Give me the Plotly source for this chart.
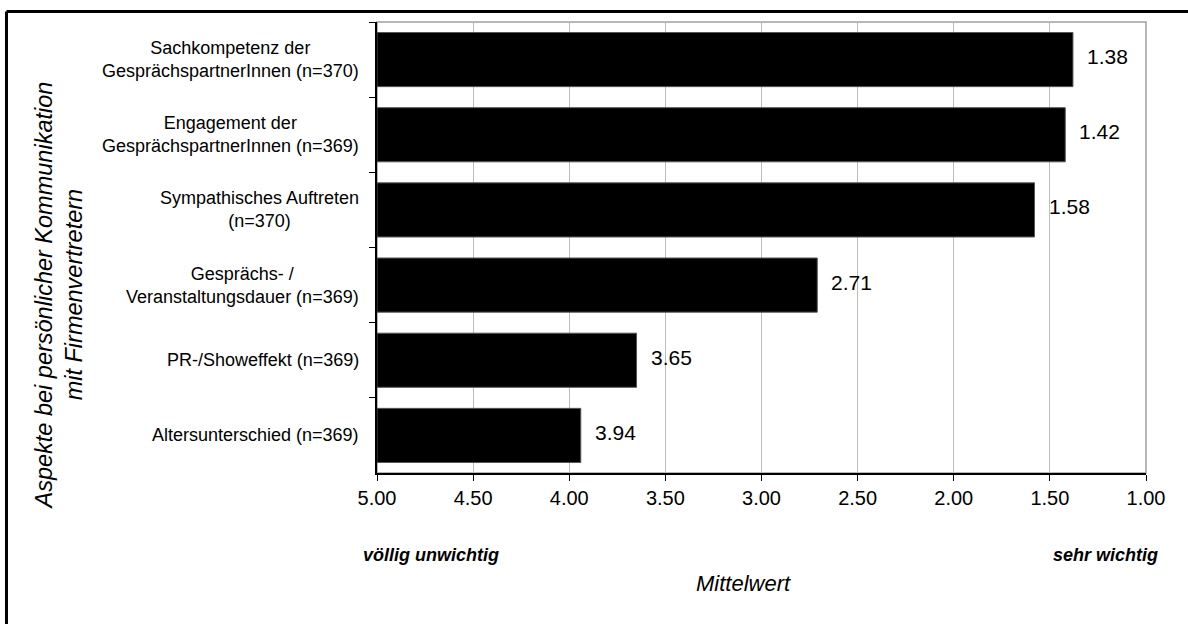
import plotly.graph_objects as go

# Survey results: mean rating per aspect (scale 1 = sehr wichtig ... 5 = völlig unwichtig)
categories = [
    "Sachkompetenz der<br>GesprächspartnerInnen (n=370)",
    "Engagement der<br>GesprächspartnerInnen (n=369)",
    "Sympathisches Auftreten<br>(n=370)",
    "Gesprächs- /<br>Veranstaltungsdauer (n=369)",
    "PR-/Showeffekt (n=369)",
    "Altersunterschied (n=369)",
]
means = [1.38, 1.42, 1.58, 2.71, 3.65, 3.94]
tick_values = [5.0, 4.5, 4.0, 3.5, 3.0, 2.5, 2.0, 1.5, 1.0]

SCALE_MAX = 5.0
SCALE_MIN = 1.0

FONT = "Liberation Sans, Arial, sans-serif"

fig = go.Figure()

# Bars grow from the "unimportant" end of the scale toward the mean value
fig.add_trace(go.Bar(
    orientation="h",
    y=categories,
    x=[m - SCALE_MAX for m in means],
    base=[SCALE_MAX] * len(means),
    width=0.72,
    marker=dict(color="#000000", line=dict(color="#555555", width=1)),
    hoverinfo="skip",
    showlegend=False,
))

annotations = []

# value labels to the right of each bar end
for cat, m in zip(categories, means):
    annotations.append(dict(
        x=m, y=cat, xref="x", yref="y",
        text=f"{m:.2f}", showarrow=False,
        xanchor="left", yanchor="middle", xshift=12, yshift=3,
        font=dict(family=FONT, size=21, color="#000000"),
    ))

# category labels, lines centred within each block
for cat in categories:
    annotations.append(dict(
        x=0, y=cat, xref="paper", yref="y",
        text=cat, showarrow=False, align="center",
        xanchor="right", yanchor="middle", xshift=-16,
        font=dict(family=FONT, size=18, color="#000000"),
    ))

# scale end descriptions
annotations.append(dict(
    x=0, y=0, xref="paper", yref="paper", text="<b><i>völlig unwichtig</i></b>",
    showarrow=False, xanchor="left", yanchor="middle", xshift=-16, yshift=-82,
    font=dict(family=FONT, size=18, color="#000000"),
))
annotations.append(dict(
    x=1, y=0, xref="paper", yref="paper", text="<b><i>sehr wichtig</i></b>",
    showarrow=False, xanchor="right", yanchor="middle", xshift=14, yshift=-82,
    font=dict(family=FONT, size=18, color="#000000"),
))

# axis titles
annotations.append(dict(
    x=0.5, y=0, xref="paper", yref="paper", text="<i>Mittelwert</i>",
    showarrow=False, xanchor="center", yanchor="middle", xshift=-18, yshift=-110,
    font=dict(family=FONT, size=22, color="#000000"),
))
annotations.append(dict(
    x=0, y=0.5, xref="paper", yref="paper",
    text="<i>Aspekte bei persönlicher Kommunikation<br>mit Firmenvertretern</i>",
    showarrow=False, textangle=-90, align="center",
    xanchor="center", yanchor="middle", xshift=-318, yshift=-48,
    font=dict(family=FONT, size=23.5, color="#000000"),
))

BORDER_LEFT = -0.4818
BORDER_TOP = 1.0233

shapes = [
    # plot area frame (grey)
    dict(type="rect", xref="paper", yref="paper", x0=0, x1=1, y0=0, y1=1,
         line=dict(color="#a0a0a0", width=1.5), layer="below"),
    # outer chart border: left and top edges (the rest runs past the page)
    dict(type="line", xref="paper", yref="paper",
         x0=BORDER_LEFT, x1=BORDER_LEFT, y0=BORDER_TOP, y1=-0.5,
         line=dict(color="#000000", width=3), layer="below"),
    dict(type="line", xref="paper", yref="paper",
         x0=BORDER_LEFT, x1=1.2, y0=BORDER_TOP, y1=BORDER_TOP,
         line=dict(color="#000000", width=3), layer="below"),
]

fig.update_layout(
    width=1188, height=624,
    margin=dict(l=377, r=42, t=22, b=151),
    paper_bgcolor="#ffffff", plot_bgcolor="#ffffff",
    font=dict(family=FONT, color="#000000"),
    bargap=0.28,
    annotations=annotations,
    shapes=shapes,
    xaxis=dict(
        range=[SCALE_MAX, SCALE_MIN],
        tickvals=tick_values,
        ticktext=[f"{v:.2f}" for v in tick_values],
        showgrid=True, gridcolor="#bcbcbc", gridwidth=1,
        showline=True, linecolor="#000000", linewidth=1.5,
        ticks="outside", ticklen=6, tickcolor="#000000", tickwidth=1,
        tickfont=dict(family=FONT, size=20, color="#000000"),
        zeroline=False,
    ),
    yaxis=dict(
        type="category",
        categoryorder="array", categoryarray=categories,
        range=[len(categories) - 0.5, -0.5],
        showticklabels=False,
        showline=True, linecolor="#000000", linewidth=1.5,
        ticks="outside", ticklen=6, tickson="boundaries",
        tickcolor="#000000", tickwidth=1,
        showgrid=False, zeroline=False,
    ),
    # companion axis for the inner half of the boundary ticks
    yaxis2=dict(
        overlaying="y", side="left", anchor="x",
        range=[len(categories) - 0.5, -0.5],
        tick0=-0.5, dtick=1,
        ticks="inside", ticklen=6, tickcolor="#000000", tickwidth=1,
        showticklabels=False, showgrid=False, zeroline=False, showline=False,
    ),
)

fig.write_html("out.html")
